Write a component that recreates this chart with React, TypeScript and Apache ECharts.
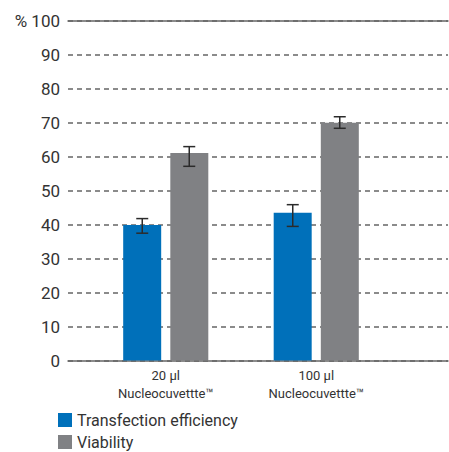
import React, { useEffect, useRef } from "react";
import * as echarts from "echarts";

const categories = ["20 µl\nNucleocuvettte™", "100 µl\nNucleocuvettte™"];
const transfection = [39.9, 43.5];
const transfectionLow = [37.5, 39.5];
const transfectionHigh = [41.8, 45.9];
const viability = [61.1, 70.0];
const viabilityLow = [57.2, 68.4];
const viabilityHigh = [63.0, 71.8];
const seriesNames = ["Transfection efficiency", "Viability"];

const BLUE = "#0070ba";
const GRAY = "#808184";
const FONT = "Roboto";

function errorSeries(low: number[], high: number[], offset: number) {
  return {
    type: "custom",
    xAxisIndex: 2,
    yAxisIndex: 1,
    z: 10,
    silent: true,
    data: low.map((l, i) => [i, l, high[i]]),
    renderItem: (params: any, api: any) => {
      const idx = api.value(0);
      const lo = api.coord([idx, api.value(1)]);
      const hi = api.coord([idx, api.value(2)]);
      const x = lo[0] + offset;
      const cap = 6;
      const style = { stroke: "#2b2b2b", lineWidth: 1.5 };
      return {
        type: "group",
        children: [
          { type: "line", shape: { x1: x, y1: lo[1], x2: x, y2: hi[1] }, style },
          { type: "line", shape: { x1: x - cap, y1: lo[1], x2: x + cap, y2: lo[1] }, style },
          { type: "line", shape: { x1: x - cap, y1: hi[1], x2: x + cap, y2: hi[1] }, style },
        ],
      };
    },
  };
}

function legendFor(name: string, top: number) {
  return {
    orient: "vertical",
    left: 58,
    top,
    padding: 0,
    icon: "rect",
    itemWidth: 14,
    itemHeight: 14,
    data: [name],
    textStyle: { fontFamily: FONT, fontSize: 16, color: "#333" },
  };
}

export default function App() {
  const ref = useRef<HTMLDivElement>(null);
  useEffect(() => {
    if (!ref.current) return;
    const chart = echarts.init(ref.current, null, { renderer: "svg" });
    chart.setOption({
      animation: false,
      textStyle: { fontFamily: FONT },
      grid: [
        { left: 68, right: 1, top: 21, bottom: 91.5 },
        { left: 90.5, width: 301, top: 21, bottom: 91.5 },
      ],
      legend: [legendFor(seriesNames[0], 412), legendFor(seriesNames[1], 434)],
      xAxis: [
        {
          gridIndex: 0,
          type: "value",
          min: 0,
          max: 1,
          position: "bottom",
          axisLine: { show: true, lineStyle: { color: "#666", width: 1.5 } },
          axisTick: { show: false },
          axisLabel: { show: false },
          splitLine: { show: false },
        },
        {
          gridIndex: 0,
          type: "value",
          min: 0,
          max: 1,
          position: "top",
          axisLine: { show: true, lineStyle: { color: "#666", width: 1.5 } },
          axisTick: { show: false },
          axisLabel: { show: false },
          splitLine: { show: false },
        },
        {
          gridIndex: 1,
          type: "category",
          data: categories,
          axisLine: { show: false },
          axisTick: { show: false },
          axisLabel: {
            margin: 6,
            fontFamily: FONT,
            fontSize: 13,
            lineHeight: 18,
            color: "#333",
          },
        },
      ],
      yAxis: [
        {
          gridIndex: 0,
          type: "value",
          min: 0,
          max: 100,
          interval: 10,
          axisLine: { show: false },
          axisTick: { show: false },
          axisLabel: {
            margin: 8,
            fontFamily: FONT,
            fontSize: 17,
            color: "#333",
            formatter: (v: number) => (v === 100 ? "% 100" : String(v)),
          },
          splitLine: { show: true, lineStyle: { color: "#666", width: 1.5, type: [5, 4] } },
        },
        {
          gridIndex: 1,
          type: "value",
          min: 0,
          max: 100,
          show: false,
          splitLine: { show: false },
        },
      ],
      series: [
        {
          name: seriesNames[0],
          type: "bar",
          xAxisIndex: 2,
          yAxisIndex: 1,
          barWidth: 38,
          barGap: "24%",
          itemStyle: { color: BLUE },
          data: transfection,
        },
        {
          name: seriesNames[1],
          type: "bar",
          xAxisIndex: 2,
          yAxisIndex: 1,
          barWidth: 38,
          barGap: "24%",
          itemStyle: { color: GRAY },
          data: viability,
        },
        errorSeries(transfectionLow, transfectionHigh, -23.5),
        errorSeries(viabilityLow, viabilityHigh, 23.5),
      ],
    });
    return () => chart.dispose();
  }, []);
  return <div ref={ref} style={{ width: 449, height: 452, position: "absolute", left: 0, top: 0 }} />;
}
